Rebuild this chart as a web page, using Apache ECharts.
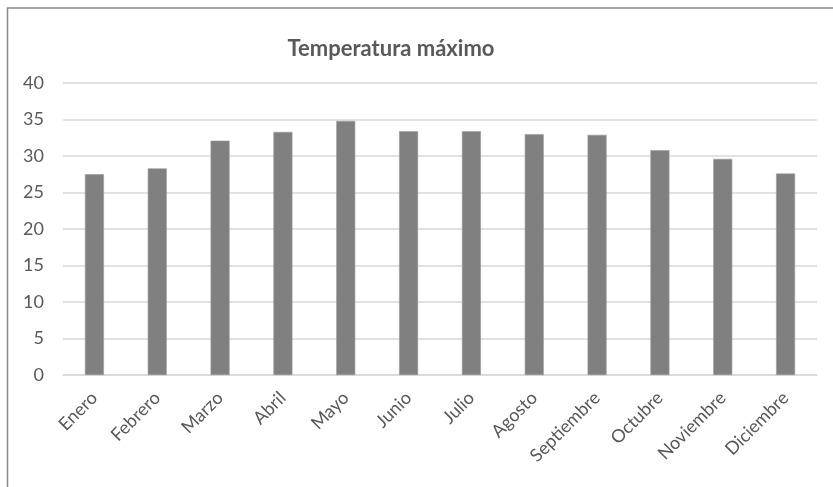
<!DOCTYPE html>
<html>
<head>
<meta charset="utf-8">
<script src="https://cdn.jsdelivr.net/npm/echarts@6/dist/echarts.min.js"></script>
<style>
  html, body { margin: 0; padding: 0; background: #fff; }
  #chart { width: 833px; height: 487px; }
</style>
</head>
<body>
<div id="chart"></div>
<script>
// Monthly maximum temperature
const months = ['Enero', 'Febrero', 'Marzo', 'Abril', 'Mayo', 'Junio', 'Julio',
                'Agosto', 'Septiembre', 'Octubre', 'Noviembre', 'Diciembre'];
const tempMax = [27.5, 28.3, 32.1, 33.3, 34.8, 33.4, 33.4, 33.0, 32.9, 30.8, 29.6, 27.6];
const yTicks = [0, 5, 10, 15, 20, 25, 30, 35, 40];
const chartTitle = 'Temperatura máximo';

const FONT = 'Lato';
const TEXT = '#595959';

const chart = echarts.init(document.getElementById('chart'), null, { renderer: 'canvas' });
chart.setOption({
  animation: false,
  backgroundColor: '#ffffff',
  title: {
    text: chartTitle,
    left: 386,
    top: 33,
    textAlign: 'center',
    textStyle: { fontFamily: FONT, fontSize: 22, fontWeight: 'bold', color: TEXT }
  },
  graphic: [{
    type: 'rect',
    silent: true,
    shape: { x: 7.5, y: 8, width: 900, height: 600 },
    style: { fill: 'none', stroke: '#888888', lineWidth: 1.5 }
  }],
  grid: { left: 63, right: 16, top: 83, bottom: 112, containLabel: false },
  xAxis: {
    type: 'category',
    data: months,
    axisLine: { show: true, lineStyle: { color: '#d9d9d9', width: 1.5 } },
    axisTick: { show: false },
    axisLabel: {
      rotate: 45,
      margin: 20,
      interval: 0,
      fontFamily: FONT,
      fontSize: 18,
      color: TEXT
    }
  },
  yAxis: {
    type: 'value',
    min: yTicks[0],
    max: yTicks[yTicks.length - 1],
    interval: yTicks[1] - yTicks[0],
    axisLine: { show: false },
    axisTick: { show: false },
    splitLine: { lineStyle: { color: '#d9d9d9', width: 1.5 } },
    axisLabel: {
      margin: 19,
      fontFamily: FONT,
      fontSize: 18,
      color: TEXT
    }
  },
  series: [{
    type: 'bar',
    data: tempMax,
    barWidth: 19,
    itemStyle: { color: '#808080', borderColor: '#9a9a9a', borderWidth: 0.6 }
  }]
});
</script>
</body>
</html>
